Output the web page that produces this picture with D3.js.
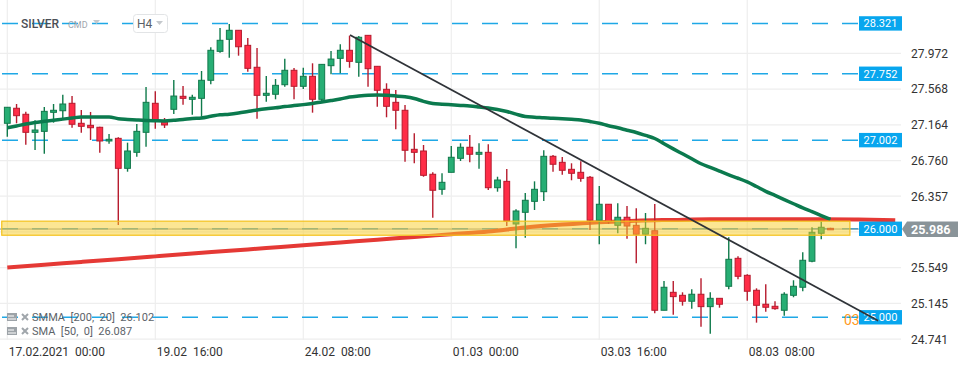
<!DOCTYPE html>
<html>
<head>
<meta charset="utf-8">
<script src="https://cdn.jsdelivr.net/npm/d3@7"></script>
<style>
	body { margin: 0; background: #fff; }
	svg { display: block; font-family: Roboto, 'Noto Sans', sans-serif; }
	text { white-space: pre; }
</style>
</head>
<body>
<div id="chart"></div>
<script>
// H4 candles, SILVER
const opens = [27.181, 27.351, 27.283, 27.079, 27.090, 27.305, 27.323, 27.407, 27.181, 27.158,
	27.136, 26.981, 27.011, 26.672, 26.853, 27.079, 27.407, 27.210, 27.339, 27.486,
	27.452, 27.463, 27.667, 27.994, 28.130, 28.232, 28.062, 27.814, 27.497, 27.509,
	27.617, 27.780, 27.599, 27.712, 27.452, 27.832, 27.915, 28.006, 27.870, 28.175,
	27.825, 27.565, 27.418, 27.328, 26.887, 26.868, 26.605, 26.435, 26.627, 26.785,
	26.910, 26.831, 26.853, 26.453, 26.525, 26.043, 26.175, 26.299, 26.408, 26.808,
	26.740, 26.661, 26.627, 26.571, 26.085, 26.266, 26.028, 26.119, 26.028, 25.927,
	25.967, 25.068, 25.271, 25.237, 25.170, 25.249, 25.109, 25.203, 25.339, 25.655,
	25.463, 25.294, 25.136, 25.113, 25.068, 25.237, 25.328, 25.622, 25.938, 25.994]
const highs = [27.362, 27.399, 27.312, 27.215, 27.365, 27.399, 27.504, 27.489, 27.331, 27.309,
	27.142, 27.060, 27.023, 26.962, 27.173, 27.591, 27.542, 27.241, 27.670, 27.602,
	27.504, 27.772, 28.040, 28.258, 28.303, 28.232, 28.145, 28.032, 27.715, 27.681,
	27.911, 27.806, 27.809, 27.859, 27.847, 27.998, 28.073, 28.171, 28.167, 28.175,
	27.825, 27.633, 27.557, 27.388, 27.068, 26.936, 26.627, 26.616, 26.924, 26.955,
	27.049, 26.955, 26.944, 26.577, 26.664, 26.209, 26.393, 26.525, 26.876, 26.823,
	26.800, 26.729, 26.751, 26.585, 26.472, 26.266, 26.277, 26.246, 26.220, 26.167,
	26.269, 25.399, 25.399, 25.271, 25.305, 25.429, 25.271, 25.203, 25.893, 25.678,
	25.475, 25.316, 25.362, 25.170, 25.271, 25.407, 25.723, 26.006, 26.073, 26.000]
const lows = [27.030, 27.181, 26.939, 26.879, 26.837, 27.188, 27.218, 27.131, 27.075, 26.992,
	26.849, 26.950, 26.032, 26.634, 26.803, 26.916, 27.120, 27.128, 27.286, 27.391,
	27.278, 27.255, 27.622, 27.979, 27.922, 27.945, 27.764, 27.233, 27.425, 27.452,
	27.594, 27.452, 27.568, 27.301, 27.418, 27.735, 27.746, 27.809, 27.707, 27.594,
	27.368, 27.249, 27.113, 26.747, 26.729, 26.577, 26.114, 26.374, 26.627, 26.755,
	26.740, 26.668, 26.427, 26.408, 26.020, 25.768, 25.888, 26.201, 26.303, 26.634,
	26.600, 26.537, 26.521, 25.975, 25.814, 26.043, 25.938, 25.877, 25.599, 25.814,
	25.034, 25.068, 25.018, 25.120, 25.086, 24.883, 24.803, 25.097, 25.305, 25.418,
	25.176, 24.928, 25.052, 25.075, 25.007, 25.215, 25.283, 25.610, 25.870, 25.980]
const closes = [27.362, 27.267, 27.079, 27.105, 27.316, 27.328, 27.399, 27.170, 27.147, 27.131,
	26.981, 27.000, 26.672, 26.868, 27.090, 27.418, 27.203, 27.162, 27.489, 27.463,
	27.475, 27.667, 28.006, 28.119, 28.232, 28.046, 27.802, 27.497, 27.520, 27.610,
	27.780, 27.599, 27.712, 27.452, 27.847, 27.907, 28.006, 27.881, 28.153, 27.798,
	27.554, 27.373, 27.328, 26.876, 26.853, 26.593, 26.424, 26.514, 26.797, 26.910,
	26.831, 26.853, 26.453, 26.540, 26.077, 26.190, 26.311, 26.435, 26.808, 26.718,
	26.650, 26.616, 26.559, 26.085, 26.266, 26.071, 26.119, 26.020, 25.927, 25.994,
	25.068, 25.328, 25.222, 25.170, 25.249, 25.109, 25.203, 25.136, 25.644, 25.452,
	25.283, 25.124, 25.102, 25.086, 25.249, 25.339, 25.633, 25.949, 26.006, 25.986]

// SMA [50, 0], one value per candle
const sma50 = [27.131, 27.151, 27.172, 27.190, 27.203, 27.216, 27.228, 27.241, 27.252, 27.252,
	27.252, 27.252, 27.233, 27.225, 27.218, 27.212, 27.209, 27.207, 27.215, 27.224,
	27.236, 27.242, 27.260, 27.277, 27.284, 27.297, 27.314, 27.331, 27.345, 27.356,
	27.370, 27.381, 27.392, 27.405, 27.422, 27.438, 27.455, 27.477, 27.489, 27.498,
	27.501, 27.498, 27.490, 27.480, 27.461, 27.429, 27.405, 27.397, 27.390, 27.383,
	27.376, 27.365, 27.353, 27.336, 27.315, 27.284, 27.258, 27.250, 27.244, 27.237,
	27.232, 27.226, 27.219, 27.201, 27.181, 27.154, 27.130, 27.103, 27.077, 27.044,
	27.009, 26.950, 26.892, 26.836, 26.780, 26.724, 26.683, 26.640, 26.598, 26.560,
	26.518, 26.466, 26.412, 26.366, 26.319, 26.272, 26.225, 26.182, 26.138, 26.096]

// SMMA [200, 20], shifted forward, read every 4 candles
const smmaIndex = [0, 4, 8, 12, 16, 20, 24, 28, 32, 36, 40, 44, 48, 52, 56, 60, 64, 68, 72, 76, 80, 84, 88, 92, 96]
const smmaValues = [25.551, 25.583, 25.614, 25.645, 25.677, 25.709, 25.740, 25.771, 25.802, 25.834,
	25.866, 25.896, 25.928, 25.959, 26.003, 26.036, 26.063, 26.081, 26.089, 26.096,
	26.097, 26.097, 26.096, 26.093, 26.086]

const levels = [28.321, 27.752, 27.002, 26.000, 25.000]
const zoneLow = 25.916
const zoneHigh = 26.075
const zoneFrom = -0.6
const zoneTo = 91.1
const trend = [[37.05, 28.179], [94.16, 24.950]]
const lastPrice = 25.986

const gridTicks = [27.972, 27.568, 27.164, 26.760, 26.357, 25.953, 25.549, 25.145, 24.741]
const yTickLabels = [27.972, 27.568, 27.164, 26.760, 26.357, 25.549, 25.145, 24.741]
const xTickIndex = [0, 16, 32, 48, 64, 80]
const xTickLabels = ['17.02.2021  00:00', '19.02  16:00', '24.02  08:00', '01.03  00:00', '03.03  16:00', '08.03  08:00']
const legendLabels = ['SMMA  [200,  20]  26.102', 'SMA  [50,  0]  26.087']

const width = 970
const height = 365

const x = d3.scaleLinear().domain([0, 89]).range([7.3, 830.5])
const y = d3.scaleLinear().domain([24.741, 27.972]).range([339.2, 53.3])

const svg =
	d3.select('#chart')
		.append('svg')
		.attr('width', width)
		.attr('height', height)

// Grid
svg.append('g')
	.selectAll('line')
	.data(gridTicks)
	.enter()
	.append('line')
	.attr('x1', 0)
	.attr('x2', 901)
	.attr('y1', d => y(d))
	.attr('y2', d => y(d))
	.attr('stroke', '#eeeeee')
	.attr('stroke-width', 1.2)

svg.append('g')
	.selectAll('line')
	.data(xTickIndex)
	.enter()
	.append('line')
	.attr('x1', d => x(d))
	.attr('x2', d => x(d))
	.attr('y1', 0)
	.attr('y2', 340)
	.attr('stroke', '#eeeeee')
	.attr('stroke-width', 1.2)

// Axes
const yAxis = svg.append('g')
	.attr('transform', 'translate(911,0)')
	.call(d3.axisRight(y).tickValues(yTickLabels).tickFormat(d3.format('.3f')).tickSize(0).tickPadding(0))
yAxis.select('.domain').remove()
yAxis.selectAll('text')
	.attr('font-size', 12)
	.attr('font-family', 'Roboto')
	.attr('fill', '#333')

const xAxis = svg.append('g')
	.attr('transform', 'translate(0,340)')
	.call(d3.axisBottom(x).tickValues(xTickIndex).tickFormat((d, i) => xTickLabels[i]).tickSize(0).tickPadding(7))
xAxis.select('.domain').remove()
xAxis.selectAll('text')
	.attr('text-anchor', 'start')
	.attr('x', 1)
	.attr('font-size', 12)
	.attr('font-family', 'Roboto')
	.attr('fill', '#333')

// Horizontal levels
svg.append('g')
	.selectAll('line')
	.data(levels)
	.enter()
	.append('line')
	.attr('x1', 2)
	.attr('x2', 859)
	.attr('y1', d => y(d) + 1)
	.attr('y2', d => y(d) + 1)
	.attr('stroke', '#1fa8e6')
	.attr('stroke-width', 1.5)
	.attr('stroke-dasharray', '16,14')

svg.append('line')
	.attr('x1', 0)
	.attr('x2', 902)
	.attr('y1', y(lastPrice))
	.attr('y2', y(lastPrice))
	.attr('stroke', '#8a9499')
	.attr('stroke-width', 1)

// SMMA
const smmaLine = d3.line()
	.x(d => x(d[0]))
	.y(d => y(d[1]))
	.curve(d3.curveMonotoneX)

svg.append('path')
	.datum(smmaIndex.map((d, i) => [d, smmaValues[i]]))
	.attr('d', smmaLine)
	.attr('fill', 'none')
	.attr('stroke', '#e53935')
	.attr('stroke-width', 4)

// Candles
const candles = opens.map((o, i) => ({ i, o, h: highs[i], l: lows[i], c: closes[i] }))
const up = d => d.c >= d.o

const candleGroups = svg.append('g')
	.selectAll('g.candle')
	.data(candles)
	.enter()
	.append('g')
	.attr('class', 'candle')

candleGroups
	.append('line')
	.attr('x1', d => x(d.i))
	.attr('x2', d => x(d.i))
	.attr('y1', d => y(d.h))
	.attr('y2', d => y(d.l))
	.attr('stroke', d => up(d) ? '#0f7a4b' : '#b71c2e')
	.attr('stroke-width', 1.4)

candleGroups
	.append('rect')
	.attr('x', d => x(d.i) - 2.9)
	.attr('width', 5.8)
	.attr('y', d => y(Math.max(d.o, d.c)))
	.attr('height', d => Math.max(1.5, Math.abs(y(d.o) - y(d.c))))
	.attr('fill', d => up(d) ? '#27ae74' : '#ff2d47')
	.attr('stroke', d => up(d) ? '#12784b' : '#b51a2d')
	.attr('stroke-width', 1)

// SMA
const smaLine = d3.line()
	.x((d, i) => x(i))
	.y(d => y(d))
	.curve(d3.curveMonotoneX)

svg.append('path')
	.datum(sma50)
	.attr('d', smaLine)
	.attr('fill', 'none')
	.attr('stroke', '#0b7a4e')
	.attr('stroke-width', 3.5)

// Zone
svg.append('rect')
	.attr('x', x(zoneFrom))
	.attr('width', x(zoneTo) - x(zoneFrom))
	.attr('y', y(zoneHigh))
	.attr('height', y(zoneLow) - y(zoneHigh))
	.attr('fill', '#f9cd28')
	.attr('fill-opacity', 0.5)
	.attr('stroke', '#f4c21c')
	.attr('stroke-width', 1.2)

// Orange time mark behind the level box
svg.append('text')
	.attr('x', 844)
	.attr('y', 325)
	.attr('font-size', 14)
	.attr('fill', '#ff9a1f')
	.text('03')

// Level labels
const levelLabels = svg.append('g')
	.selectAll('g')
	.data(levels)
	.enter()
	.append('g')
	.attr('transform', d => `translate(859,${y(d) + 1})`)

levelLabels
	.append('rect')
	.attr('x', 0)
	.attr('y', -7.2)
	.attr('width', 43)
	.attr('height', 14.4)
	.attr('fill', '#08a6ee')

levelLabels
	.append('text')
	.attr('x', 21.5)
	.attr('dy', '0.35em')
	.attr('text-anchor', 'middle')
	.attr('font-size', 11)
	.attr('fill', '#fff')
	.text(d => d3.format('.3f')(d))

// Last price tag
const py = y(lastPrice)
svg.append('path')
	.attr('d', `M902,${py} L907,${py - 7.5} L958,${py - 7.5} L958,${py + 8} L907,${py + 8} Z`)
	.attr('fill', '#8a9499')

svg.append('text')
	.attr('x', 911)
	.attr('y', py)
	.attr('dy', '0.38em')
	.attr('font-size', 12.5)
	.attr('font-weight', 'bold')
	.attr('fill', '#fff')
	.text(d3.format('.3f')(lastPrice))

// Trend line
svg.append('line')
	.attr('x1', x(trend[0][0]))
	.attr('y1', y(trend[0][1]))
	.attr('x2', x(trend[1][0]))
	.attr('y2', y(trend[1][1]))
	.attr('stroke', '#2f3338')
	.attr('stroke-width', 1.8)

// Header
svg.append('text')
	.attr('x', 21)
	.attr('y', 28)
	.attr('font-size', 12)
	.attr('font-weight', 500)
	.attr('fill', '#4b4f56')
	.text('SILVER')

svg.append('text')
	.attr('x', 68)
	.attr('y', 28)
	.attr('font-size', 9)
	.attr('fill', '#a0a6ad')
	.text('CMD')

svg.append('path')
	.attr('d', 'M93,20 L100,20 L96.5,24 Z')
	.attr('fill', '#c4c8cc')

svg.append('rect')
	.attr('x', 133.5)
	.attr('y', 14.5)
	.attr('width', 34)
	.attr('height', 18)
	.attr('rx', 3)
	.attr('fill', '#fff')
	.attr('stroke', '#e2e4e6')

svg.append('text')
	.attr('x', 137)
	.attr('y', 28)
	.attr('font-size', 12)
	.attr('fill', '#5a5f66')
	.text('H4')

svg.append('path')
	.attr('d', 'M156,21 L163,21 L159.5,25 Z')
	.attr('fill', '#c4c8cc')

// Legend
const legend = svg.append('g')
	.selectAll('g')
	.data(legendLabels)
	.enter()
	.append('g')
	.attr('transform', (d, i) => `translate(0,${317 + i * 14})`)

legend
	.append('rect')
	.attr('x', 7)
	.attr('y', -4)
	.attr('width', 10)
	.attr('height', 8)
	.attr('fill', '#9da3a8')

legend
	.append('line')
	.attr('x1', 8)
	.attr('x2', 14)
	.attr('y1', -1)
	.attr('y2', -1)
	.attr('stroke', '#fff')

legend
	.append('line')
	.attr('x1', 8)
	.attr('x2', 16)
	.attr('y1', 2)
	.attr('y2', 2)
	.attr('stroke', '#fff')

legend
	.append('path')
	.attr('d', 'M22,-3 L28,3 M28,-3 L22,3')
	.attr('stroke', '#a0a6ab')
	.attr('stroke-width', 2)

legend
	.append('text')
	.attr('x', 32)
	.attr('dy', '0.38em')
	.attr('font-size', 11)
	.attr('fill', '#5d6369')
	.text(d => d)
</script>
</body>
</html>
